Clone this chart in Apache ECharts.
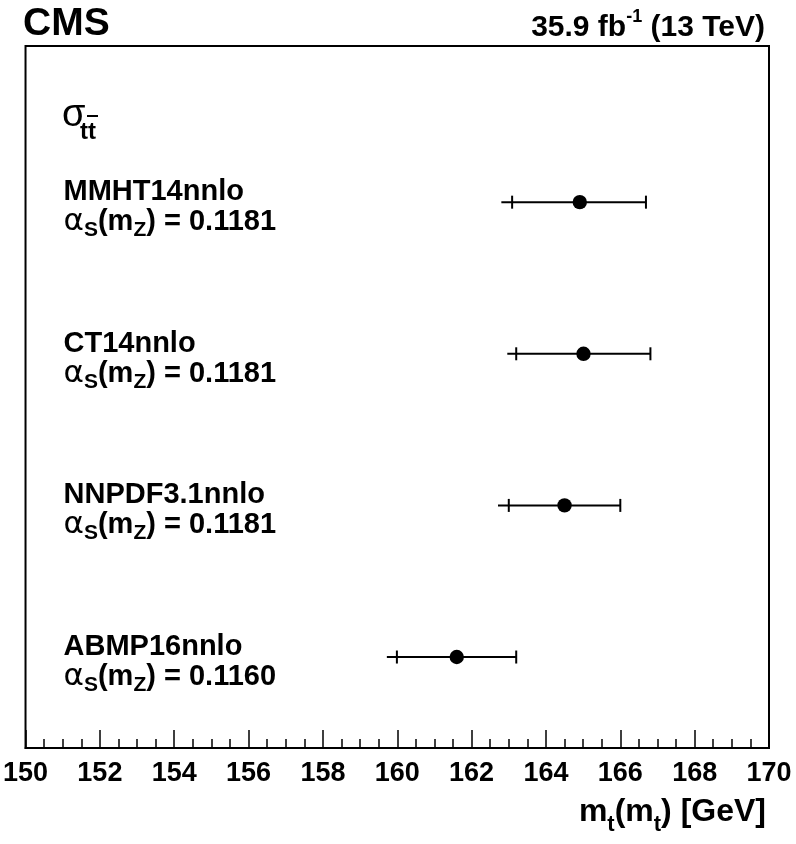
<!DOCTYPE html>
<html>
<head>
<meta charset="utf-8">
<script src="https://cdn.jsdelivr.net/npm/echarts@6/dist/echarts.min.js"></script>
<style>
html,body{margin:0;padding:0;background:#fff;}
#chart{width:796px;height:844px;}
</style>
</head>
<body>
<div id="chart"></div>
<script>
// ---- data ----
const pdfNames   = ['ABMP16nnlo', 'NNPDF3.1nnlo', 'CT14nnlo', 'MMHT14nnlo'];
const alphaS     = ['0.1160', '0.1181', '0.1181', '0.1181'];
const rowPos     = [1, 2, 3, 4];
const mtCentral  = [161.60, 164.50, 165.01, 164.91];
const mtLowTotal = [159.72, 162.71, 162.96, 162.80];
const mtLowInner = [159.99, 163.00, 163.20, 163.09];
const mtHigh     = [163.20, 166.00, 166.81, 166.69];
const xMin = 150, xMax = 170, xStep = 2;

const FONT = '"Liberation Sans", Arial, Helvetica, sans-serif';

const seriesData = pdfNames.map((n, i) => [mtCentral[i], rowPos[i], mtLowTotal[i], mtLowInner[i], mtHigh[i], i]);

const chart = echarts.init(document.getElementById('chart'), null, {renderer: 'canvas'});

function renderItem(params, api) {
  const yv = api.value(1);
  const c   = api.coord([api.value(0), yv]);
  const lo  = api.coord([api.value(2), yv]);
  const inn = api.coord([api.value(3), yv]);
  const hi  = api.coord([api.value(4), yv]);
  const idx = api.value(5);
  const cap = 6.5;
  const ls = {stroke: '#000', lineWidth: 2};
  const tx = params.coordSys.x + 38;
  return {
    type: 'group',
    children: [
      {type: 'line', shape: {x1: lo[0], y1: lo[1], x2: hi[0], y2: hi[1]}, style: ls},
      {type: 'line', shape: {x1: inn[0], y1: inn[1] - cap, x2: inn[0], y2: inn[1] + cap}, style: ls},
      {type: 'line', shape: {x1: hi[0], y1: hi[1] - cap, x2: hi[0], y2: hi[1] + cap}, style: ls},
      {type: 'circle', shape: {cx: c[0], cy: c[1], r: 7.2}, style: {fill: '#000'}},
      {type: 'text', x: tx, y: c[1] - 10,
        style: {text: pdfNames[idx], font: 'bold 29px ' + FONT, fill: '#000',
                align: 'left', verticalAlign: 'middle', textAlign: 'left', textVerticalAlign: 'middle'}},
      {type: 'text', x: tx, y: c[1] + 20,
        style: {
          text: '{a|α}{s|S}{b|(m}{s|Z}{b|) = ' + alphaS[idx] + '}',
          align: 'left', verticalAlign: 'middle', textAlign: 'left', textVerticalAlign: 'middle',
          rich: {
            a: {font: 'normal 31px "DejaVu Sans", ' + FONT, fill: '#000', lineHeight: 37},
            b: {font: 'bold 29px ' + FONT, fill: '#000', lineHeight: 37},
            s: {font: 'bold 21px ' + FONT, fill: '#000', verticalAlign: 'bottom'}
          }
        }}
    ]
  };
}

const option = {
  animation: false,
  backgroundColor: '#fff',
  grid: {left: 24, right: 27, top: 46, bottom: 96, show: true, borderColor: '#000', borderWidth: 2, backgroundColor: 'transparent'},
  xAxis: {
    type: 'value', min: xMin, max: xMax, interval: xStep,
    axisLine: {show: true, onZero: false, lineStyle: {color: '#000', width: 2}},
    axisTick: {show: true, inside: true, length: 18, lineStyle: {color: '#000', width: 1.5}},
    minorTick: {show: true, splitNumber: 4, length: 9, lineStyle: {color: '#000', width: 1.5}},
    splitLine: {show: false},
    minorSplitLine: {show: false},
    axisLabel: {color: '#000', fontSize: 27, fontWeight: 'bold', fontFamily: FONT, margin: 12}
  },
  yAxis: {
    type: 'value', min: 0.4, max: 5.03, show: false, splitLine: {show: false}
  },
  series: [{
    type: 'custom',
    renderItem: renderItem,
    data: seriesData,
    clip: false
  }],
  graphic: [
    {type: 'text', left: 23, top: 5,
      style: {text: 'CMS', font: 'bold 39px ' + FONT, fill: '#000'}},
    {type: 'text', x: 765, y: 28,
      style: {text: '{b|35.9 fb}{p|-1}{b| (13 TeV)}', align: 'right', verticalAlign: 'middle', textAlign: 'right', textVerticalAlign: 'middle',
        rich: {
          b: {font: 'bold 30px ' + FONT, fill: '#000', lineHeight: 40},
          p: {font: 'bold 18px ' + FONT, fill: '#000', verticalAlign: 'top'}
        }}},
    {type: 'text', x: 62, y: 116,
      style: {text: 'σ', font: 'normal 38px ' + FONT, fill: '#000', align: 'left', verticalAlign: 'middle', textAlign: 'left', textVerticalAlign: 'middle'}},
    {type: 'text', x: 80, y: 132,
      style: {text: 'tt', font: 'bold 24px ' + FONT, fill: '#000', align: 'left', verticalAlign: 'middle', textAlign: 'left', textVerticalAlign: 'middle'}},
    {type: 'line', shape: {x1: 87, y1: 116, x2: 98, y2: 116}, style: {stroke: '#000', lineWidth: 2}},
    {type: 'text', x: 766, y: 812,
      style: {text: '{b|m}{s|t}{b|(m}{s|t}{b|) [GeV]}', align: 'right', verticalAlign: 'middle', textAlign: 'right', textVerticalAlign: 'middle',
        rich: {
          b: {font: 'bold 32px ' + FONT, fill: '#000', lineHeight: 48},
          s: {font: 'bold 22px ' + FONT, fill: '#000', verticalAlign: 'bottom'}
        }}}
  ]
};
chart.setOption(option);
</script>
</body>
</html>
